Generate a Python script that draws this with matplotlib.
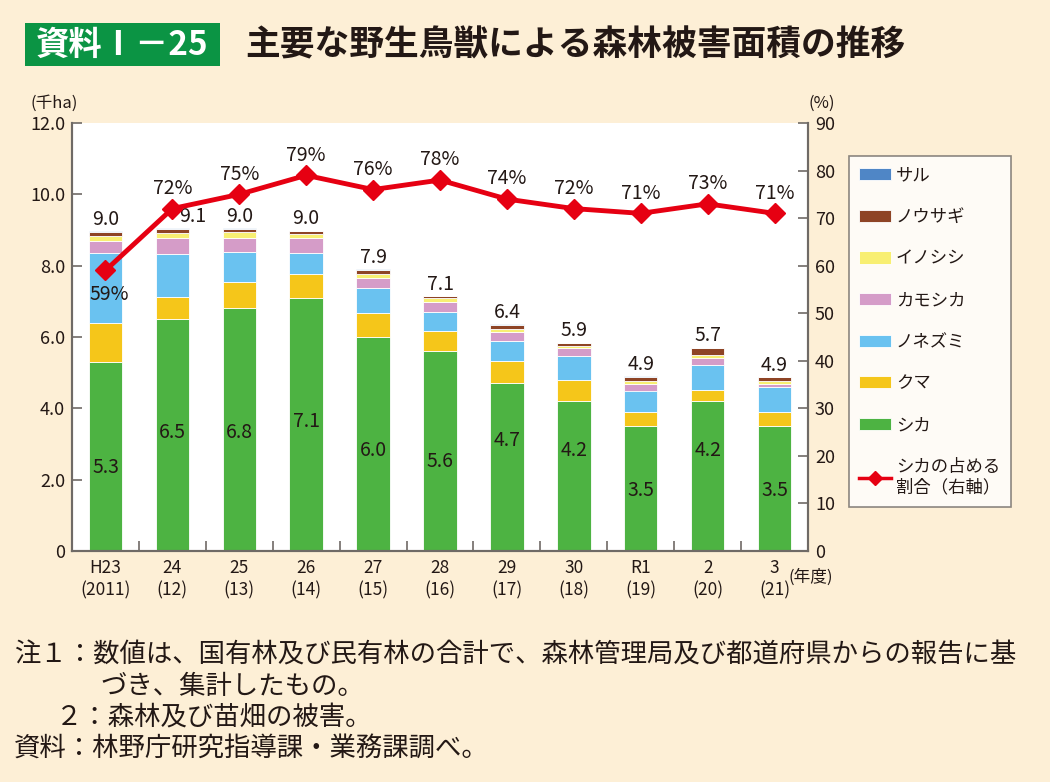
import matplotlib
matplotlib.use("Agg")
import numpy as np
import matplotlib.pyplot as plt
from matplotlib.patches import Patch, Rectangle
from matplotlib.lines import Line2D

# 年度
years = ["H23\n(2011)", "24\n(12)", "25\n(13)", "26\n(14)", "27\n(15)", "28\n(16)",
         "29\n(17)", "30\n(18)", "R1\n(19)", "2\n(20)", "3\n(21)"]

# 被害面積（千ha）
shika     = [5.3, 6.5, 6.8, 7.1, 6.0, 5.6, 4.7, 4.2, 3.5, 4.2, 3.5]
kuma      = [1.08, 0.61, 0.75, 0.67, 0.68, 0.57, 0.62, 0.59, 0.41, 0.31, 0.41]
nezumi    = [1.97, 1.21, 0.82, 0.58, 0.69, 0.54, 0.58, 0.69, 0.59, 0.70, 0.69]
kamoshika = [0.33, 0.46, 0.41, 0.42, 0.29, 0.27, 0.25, 0.21, 0.19, 0.21, 0.09]
inoshishi = [0.15, 0.14, 0.15, 0.12, 0.10, 0.10, 0.08, 0.05, 0.08, 0.07, 0.08]
usagi     = [0.11, 0.10, 0.11, 0.08, 0.13, 0.06, 0.12, 0.09, 0.12, 0.20, 0.10]
saru      = [0.03, 0.03, 0.01, 0.01, 0.01, 0.01, 0.01, 0.01, 0.01, 0.01, 0.01]
totals    = [9.0, 9.1, 9.0, 9.0, 7.9, 7.1, 6.4, 5.9, 4.9, 5.7, 4.9]

# シカの占める割合（%）
ratio = [59, 72, 75, 79, 76, 78, 74, 72, 71, 73, 71]

# シカの数値ラベルの高さ（見た目合わせ）
shika_lbl_y = [2.33, 3.31, 3.31, 3.62, 2.83, 2.5, 3.11, 2.83, 1.71, 2.83, 1.71]

BG = "#fdefd6"
TXT = "#231815"
AXC = "#6f6a66"

plt.rcParams["font.family"] = ["Noto Sans CJK JP", "DejaVu Sans"]

fig = plt.figure(figsize=(10.5, 7.82), dpi=100, facecolor=BG)
ax = fig.add_axes([72/1050, 1-551/782, (808-72)/1050, (551-123)/782])
ax.set_facecolor("white")

x = np.arange(len(years))
layers = [
    ("シカ", shika, "#4db342"),
    ("クマ", kuma, "#f5c61a"),
    ("ノネズミ", nezumi, "#6ac2f0"),
    ("カモシカ", kamoshika, "#d59cc8"),
    ("イノシシ", inoshishi, "#f8ef72"),
    ("ノウサギ", usagi, "#8e4425"),
    ("サル", saru, "#4f86c6"),
]
bottom = np.zeros(len(x))
for name, vals, col in layers:
    v = np.array(vals)
    ax.bar(x, v, width=0.5, bottom=bottom, color=col, edgecolor="white",
           linewidth=0.6, zorder=2)
    bottom += v

for i in x:
    ax.text(i, shika_lbl_y[i], f"{shika[i]:.1f}", ha="center", va="center",
            fontsize=14, color=TXT, zorder=4)
    dx = 0.3 if i == 1 else 0
    ax.annotate(f"{totals[i]:.1f}", (i + dx, bottom[i]), xytext=(0, 1),
                textcoords="offset points", ha="center", va="bottom",
                fontsize=14, color=TXT, zorder=4)

ax.set_xlim(-0.5, len(x) - 0.5)
ax.set_ylim(0, 12)
ax.set_yticks(np.arange(0, 12.1, 2))
ax.set_yticklabels(["0"] + [f"{v:.1f}" for v in np.arange(2, 12.1, 2)])
ax.set_xticks(x)
ax.set_xticklabels(years, fontsize=12.5, color=TXT, linespacing=1.3)
ax.set_xticks(np.arange(0.5, len(x) - 1, 1), minor=True)
ax.tick_params(axis="x", which="major", length=0, pad=6)
ax.tick_params(axis="x", which="minor", direction="in", length=7, color=AXC, width=1.2)
ax.tick_params(axis="y", direction="in", length=7, color=AXC, width=1.2,
               labelsize=13, labelcolor=TXT, pad=5)
for s in ["left", "right", "bottom"]:
    ax.spines[s].set_color(AXC)
    ax.spines[s].set_linewidth(1.5)
ax.spines["top"].set_visible(False)

ax2 = ax.twinx()
ax2.set_ylim(0, 90)
ax2.set_yticks(np.arange(0, 91, 10))
ax2.tick_params(axis="y", direction="in", length=7, color=AXC, width=1.2,
                labelsize=13, labelcolor=TXT, pad=5)
for s in ["left", "right", "bottom"]:
    ax2.spines[s].set_color(AXC)
    ax2.spines[s].set_linewidth(1.5)
ax2.spines["top"].set_visible(False)
ax2.plot(x, ratio, color="#e60012", linewidth=3.5, marker="D", markersize=10,
         zorder=5)
for i in x:
    if i == 0:
        ax2.annotate(f"{ratio[i]}%", (i, ratio[i]), xytext=(3, -10),
                     textcoords="offset points", ha="center", va="top",
                     fontsize=14, color=TXT)
    else:
        ax2.annotate(f"{ratio[i]}%", (i, ratio[i]), xytext=(0, 7),
                     textcoords="offset points", ha="center", va="bottom",
                     fontsize=14, color=TXT)

# 単位
fig.text(30/1050, 1-103/782, "(千ha)", fontsize=12, color=TXT, ha="left", va="center")
fig.text(822/1050, 1-103/782, "(%)", fontsize=12, color=TXT, ha="center", va="center")
fig.text(789/1050, 1-577/782, "(年度)", fontsize=12, color=TXT, ha="left", va="center")

# 凡例
handles = [Patch(facecolor=c, edgecolor="white", linewidth=0.6) for _, _, c in layers[::-1]]
labels = [n for n, _, _ in layers[::-1]]
handles.append(Line2D([0], [0], color="#e60012", linewidth=2.5, marker="D", markersize=7))
labels.append("シカの占める\n割合（右軸）")
leg = fig.legend(handles, labels, loc="upper left",
                 bbox_to_anchor=(849/1050, 1-156/782), borderaxespad=0,
                 frameon=True, fancybox=False,
                 edgecolor="#6f6a66", facecolor="white", fontsize=12.5,
                 labelspacing=1.36, handlelength=1.8, handleheight=0.7,
                 borderpad=0.6, handletextpad=0.3)
leg.get_frame().set_linewidth(1.2)
for t in leg.get_texts():
    t.set_color(TXT)

# タイトル
fig.patches.append(Rectangle((25/1050, 1-66/782), 195/1050, 43/782,
                             transform=fig.transFigure, facecolor="#0b9444",
                             edgecolor="none"))
fig.text(122/1050, 1-45/782, "資料Ⅰ－25", fontsize=24, fontweight="bold",
         color="white", ha="center", va="center")
fig.text(245/1050, 1-45/782, "主要な野生鳥獣による森林被害面積の推移", fontsize=25,
         fontweight="bold", color=TXT, ha="left", va="center")

# 注記
fs = 19
fig.text(14/1050, 1-655/782, "注１：数値は、国有林及び民有林の合計で、森林管理局及び都道府県からの報告に基",
         fontsize=fs, color=TXT, ha="left", va="center")
fig.text(100/1050, 1-686/782, "づき、集計したもの。", fontsize=fs, color=TXT, ha="left", va="center")
fig.text(56/1050, 1-717/782, "２：森林及び苗畑の被害。", fontsize=fs, color=TXT, ha="left", va="center")
fig.text(14/1050, 1-748/782, "資料：林野庁研究指導課・業務課調べ。", fontsize=fs, color=TXT,
         ha="left", va="center")

fig.savefig("out.png", dpi=100, facecolor=BG)
